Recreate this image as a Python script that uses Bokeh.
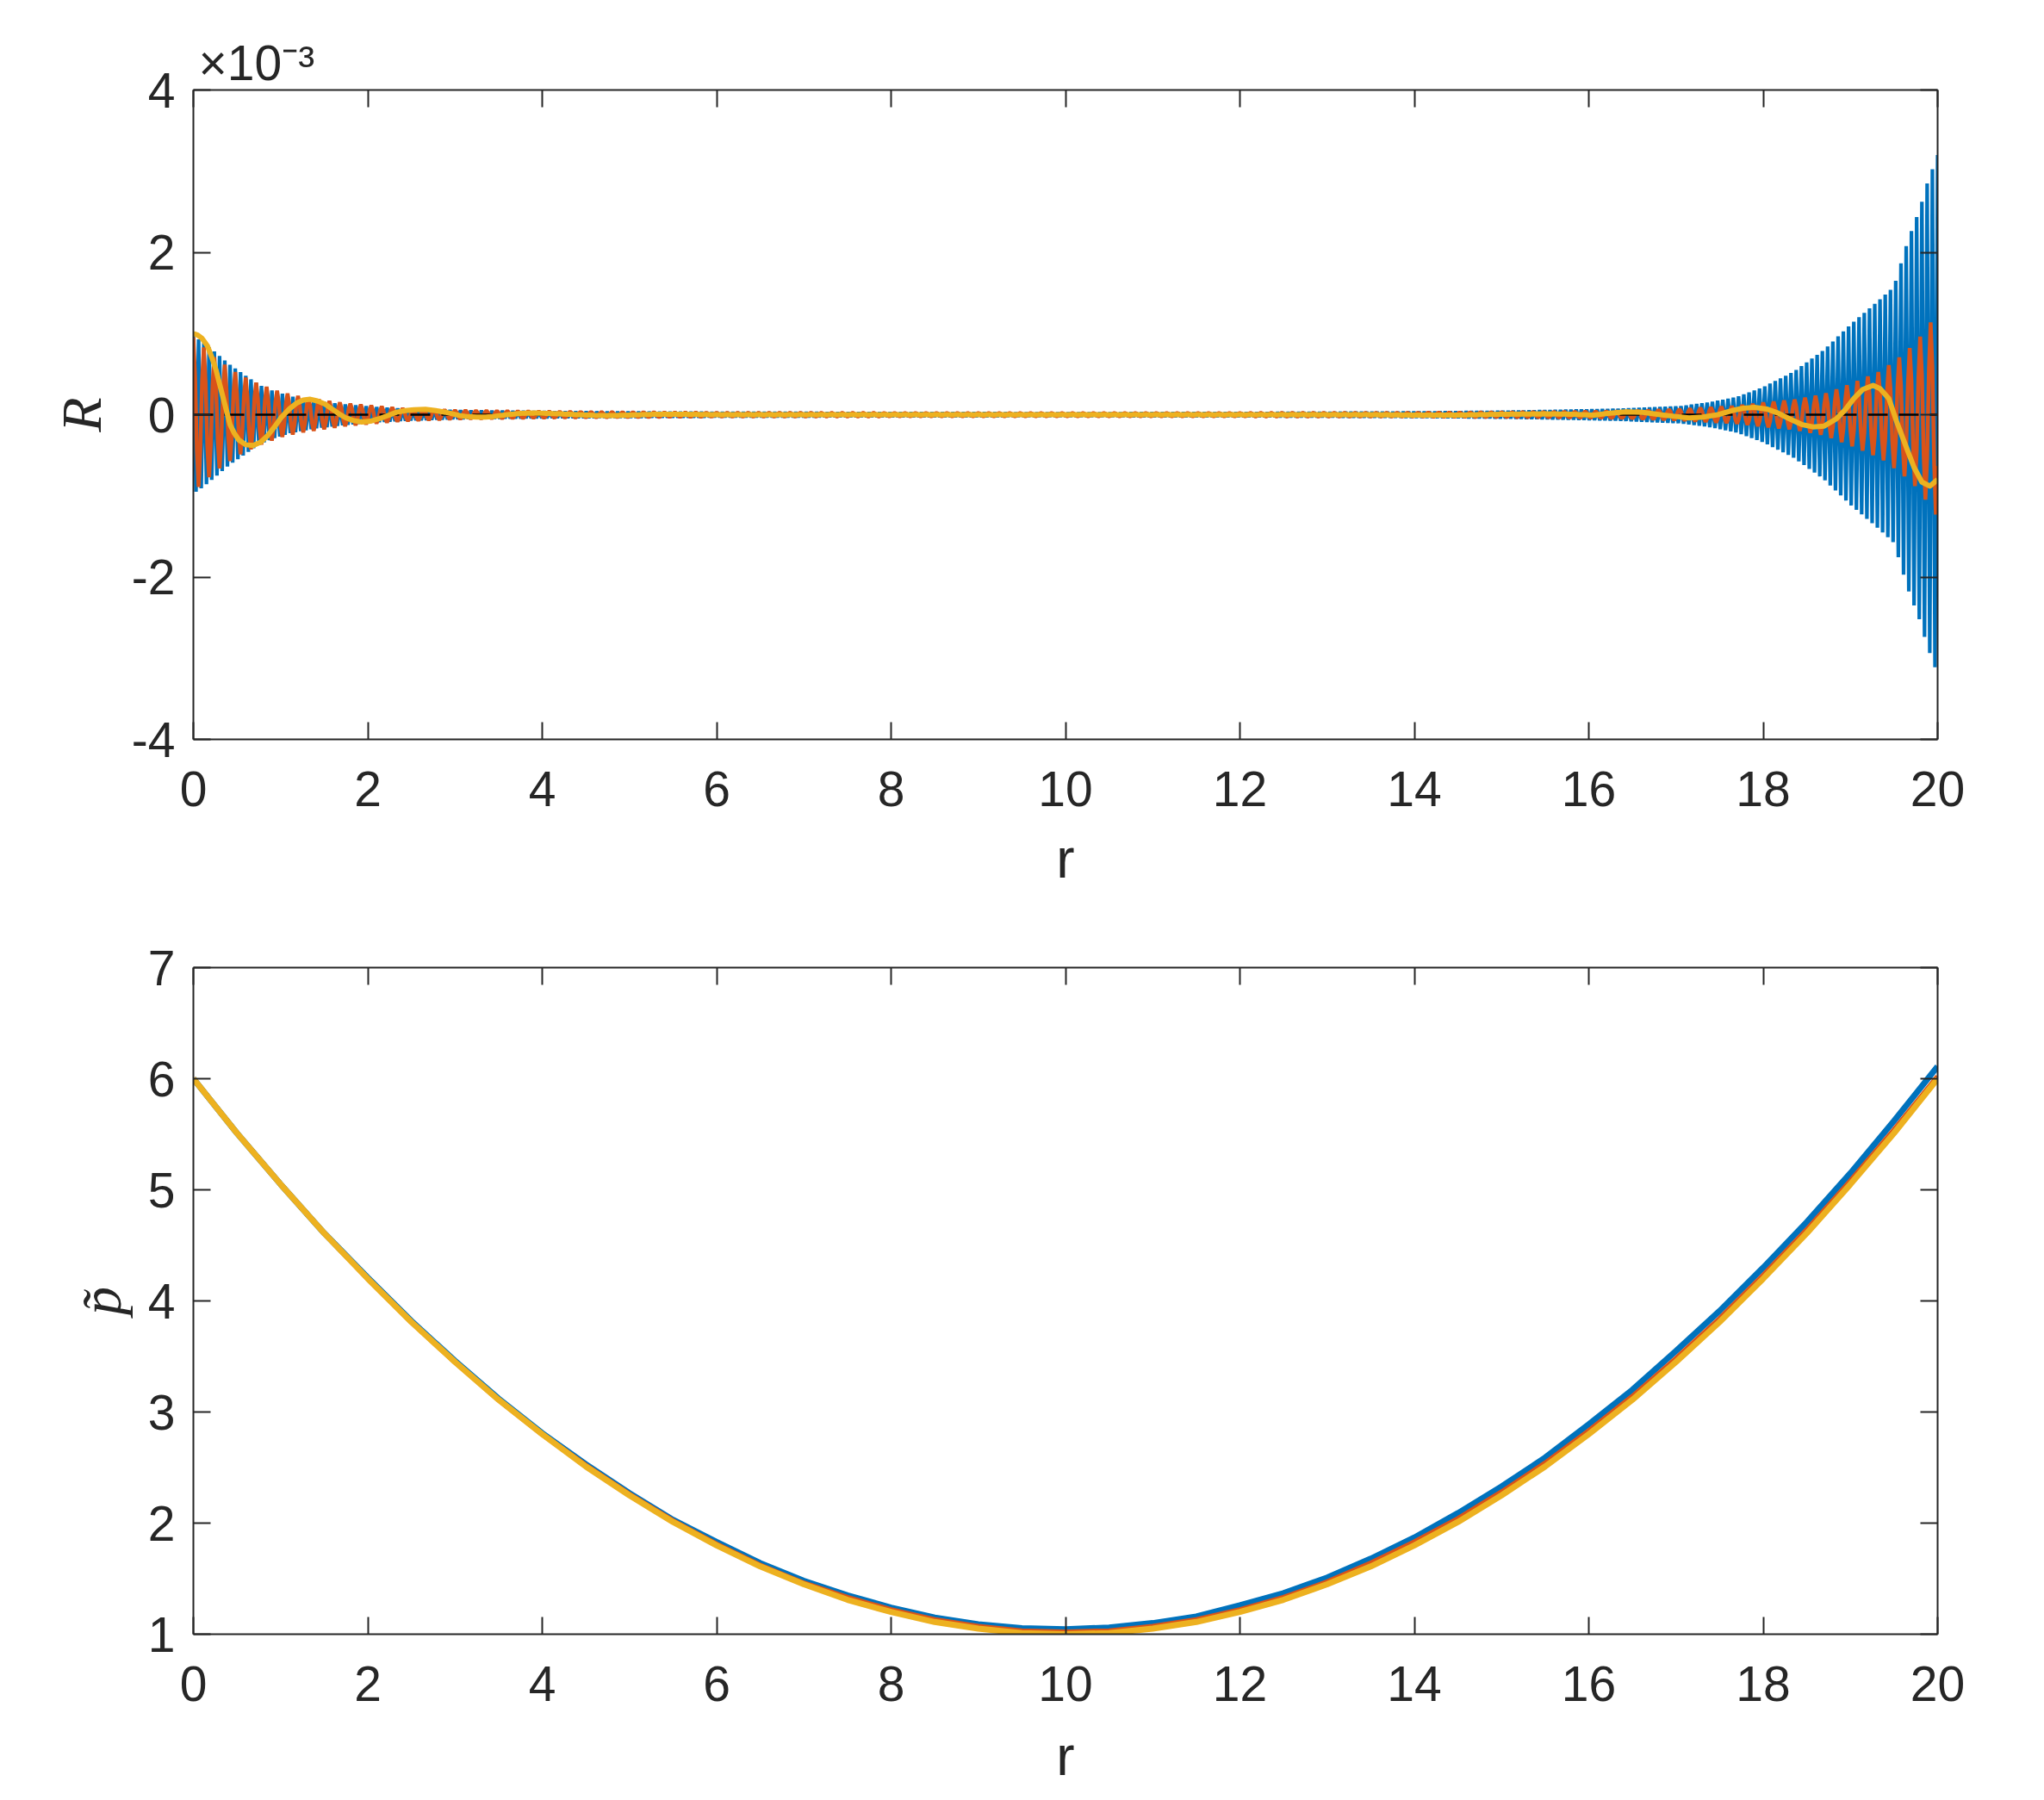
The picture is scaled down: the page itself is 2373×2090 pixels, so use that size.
import numpy as np
from bokeh.plotting import figure
from bokeh.models import Range1d, LinearAxis, FixedTicker, CustomJSTickFormatter, Title
from bokeh.layouts import column
from bokeh.embed import file_html
from bokeh.resources import INLINE

# ---------------- data ----------------
r_ticks = [0, 2, 4, 6, 8, 10, 12, 14, 16, 18, 20]
R_ticks = [-4e-3, -2e-3, 0.0, 2e-3, 4e-3]
p_ticks = [1, 2, 3, 4, 5, 6, 7]
R_scale = 1e-3  # values below are in units of 1e-3
R_scale_label = "×10⁻³"

# blue series: envelope of the fast odd/even (grid-scale) oscillation
blue_env_r = [0.0, 0.1, 0.25, 0.4, 0.6, 0.75, 0.9, 1.1, 1.25, 1.4, 1.75, 2.1, 2.4, 3.0, 3.7, 4.2,
              6.0, 8.0, 10.0, 12.0, 14.0, 15.0, 16.0, 16.4, 16.7, 17.05, 17.4, 17.7, 18.0, 18.35,
              18.7, 19.0, 19.35, 19.5, 19.66, 19.8, 19.88, 20.0]
blue_env_amp = [0.97, 0.90, 0.77, 0.63, 0.48, 0.37, 0.30, 0.23, 0.20, 0.17, 0.125, 0.095, 0.075,
                0.055, 0.045, 0.04, 0.03, 0.025, 0.022, 0.025, 0.035, 0.045, 0.065, 0.075, 0.09,
                0.105, 0.155, 0.22, 0.34, 0.53, 0.80, 1.11, 1.43, 1.58, 2.15, 2.55, 2.85, 3.2]
blue_n_points = 667          # grid points (sign alternates point to point)

# red series: envelope of the slower oscillation
red_env_r = [0.0, 0.25, 0.5, 0.75, 1.0, 1.25, 1.75, 2.4, 3.0, 3.7, 4.5, 6.0, 10.0, 14.0, 15.5,
             16.4, 17.05, 17.7, 18.0, 18.35, 18.7, 19.0, 19.35, 19.6, 19.75, 19.87, 20.0]
red_env_amp = [0.95, 0.70, 0.51, 0.38, 0.28, 0.22, 0.14, 0.08, 0.055, 0.045, 0.035, 0.025, 0.02,
               0.025, 0.035, 0.045, 0.07, 0.11, 0.15, 0.185, 0.255, 0.38, 0.54, 0.74, 0.89, 1.06, 1.26]
red_period = 0.12

# yellow series (smooth)
yellow_r = [0.0, 0.05, 0.1, 0.16, 0.21, 0.26, 0.31, 0.36, 0.42, 0.47, 0.52, 0.6, 0.685, 0.77, 0.85,
            0.93, 1.01, 1.1, 1.18, 1.26, 1.34, 1.42, 1.51, 1.59, 1.67, 1.75, 1.83, 1.93, 2.03,
            2.13, 2.23, 2.33, 2.43, 2.53, 2.66, 2.78, 2.89, 3.05, 3.15, 3.25, 3.35, 3.45, 3.6,
            3.75, 3.91, 4.05, 4.2, 4.4, 4.6, 4.8, 5.0, 5.3, 5.6, 6.0, 8.0, 10.0, 12.0, 13.5,
            14.0, 14.5, 15.0, 15.5, 15.8, 16.06, 16.22, 16.42, 16.62, 16.82, 16.98, 17.15,
            17.31, 17.48, 17.64, 17.77, 17.9, 18.04, 18.17, 18.3, 18.44, 18.57, 18.7, 18.84,
            18.94, 19.04, 19.14, 19.26, 19.34, 19.44, 19.53, 19.63, 19.73, 19.82, 19.91, 20.0]
yellow_R = [1.00, 0.98, 0.94, 0.85, 0.71, 0.55, 0.34, 0.13, -0.12, -0.23, -0.31, -0.37, -0.38,
            -0.34, -0.26, -0.15, -0.03, 0.07, 0.14, 0.18, 0.19, 0.17, 0.13, 0.07, 0.01, -0.04,
            -0.07, -0.09, -0.08, -0.05, -0.01, 0.03, 0.05, 0.06, 0.066, 0.05, 0.03, -0.01,
            -0.025, -0.03, -0.028, -0.02, 0.0, 0.015, 0.02, 0.015, 0.01, 0.0, -0.008, -0.01,
            -0.005, 0.005, 0.005, 0.0, 0.0, 0.0, 0.0, 0.0, -0.005, -0.005, 0.005, 0.01, 0.005,
            -0.005, 0.015, 0.035, 0.03, 0.0, -0.02, -0.04, -0.03, 0.0, 0.05, 0.08, 0.09, 0.07,
            0.02, -0.05, -0.12, -0.15, -0.14, -0.05, 0.06, 0.20, 0.31, 0.36, 0.32, 0.20, -0.085,
            -0.37, -0.65, -0.83, -0.88, -0.80]

# bottom panel
p_r = [0.0, 0.5, 1.0, 1.5, 2.0, 2.5, 3.0, 3.5, 4.0, 4.5, 5.0, 5.5, 6.0, 6.5, 7.0, 7.5, 8.0, 8.5,
       9.0, 9.5, 10.0, 10.5, 11.0, 11.5, 12.0, 12.5, 13.0, 13.5, 14.0, 14.5, 15.0, 15.5, 16.0,
       16.5, 17.0, 17.5, 18.0, 18.5, 19.0, 19.5, 20.0]
p_blue = [6.00, 5.51, 5.05, 4.61, 4.21, 3.82, 3.46, 3.12, 2.81, 2.53, 2.27, 2.03, 1.83, 1.64, 1.48,
          1.35, 1.24, 1.15, 1.09, 1.055, 1.045, 1.06, 1.10, 1.16, 1.26, 1.37, 1.51, 1.68, 1.87,
          2.09, 2.33, 2.59, 2.89, 3.20, 3.55, 3.91, 4.30, 4.71, 5.15, 5.62, 6.11]
p_red = [6.00, 5.51, 5.05, 4.61, 4.20, 3.81, 3.45, 3.11, 2.80, 2.52, 2.26, 2.02, 1.81, 1.62, 1.46,
         1.33, 1.22, 1.13, 1.07, 1.03, 1.02, 1.03, 1.07, 1.13, 1.22, 1.33, 1.47, 1.64, 1.83, 2.04,
         2.28, 2.54, 2.83, 3.14, 3.48, 3.84, 4.23, 4.64, 5.08, 5.54, 6.02]
p_yellow = [6.00, 5.51, 5.05, 4.61, 4.20, 3.81, 3.45, 3.11, 2.80, 2.51, 2.25, 2.01, 1.80, 1.61,
            1.45, 1.31, 1.20, 1.11, 1.05, 1.01, 1.00, 1.01, 1.05, 1.11, 1.20, 1.31, 1.45, 1.61,
            1.80, 2.01, 2.25, 2.51, 2.80, 3.11, 3.45, 3.81, 4.20, 4.61, 5.05, 5.51, 6.00]

# ---------------- style ----------------
BLUE = "#0072BD"
RED = "#D95319"
YELLOW = "#EDB120"
AX = "#262626"
SANS = "Liberation Sans"
SERIF = "Liberation Serif"
TICK_FS = "57px"
LAB_FS = "64px"

blank = CustomJSTickFormatter(code="return '';")


def style_axes(p, xticks, yticks, yformatter=None, xlabel_standoff=22):
    p.xgrid.visible = False
    p.ygrid.visible = False
    p.outline_line_color = None
    p.background_fill_color = None
    p.border_fill_color = None
    p.add_layout(LinearAxis(), "right")
    p.add_layout(LinearAxis(), "above")
    for ax in p.below + p.above:
        ax.ticker = FixedTicker(ticks=xticks)
    for ax in p.left + p.right:
        ax.ticker = FixedTicker(ticks=yticks)
    if yformatter is not None:
        p.left[0].formatter = yformatter
    for ax in p.below + p.above + p.left + p.right:
        ax.axis_line_color = AX
        ax.axis_line_width = 2
        ax.major_tick_line_color = AX
        ax.major_tick_line_width = 2
        ax.major_tick_in = 20
        ax.major_tick_out = 0
        ax.minor_tick_line_color = None
        ax.major_label_text_font = SANS
        ax.major_label_text_font_size = TICK_FS
        ax.major_label_text_color = AX
    for ax in (p.right[0], p.above[0]):
        ax.formatter = blank
        ax.major_label_text_font_size = "1px"
        ax.major_label_standoff = 0
    p.below[0].major_label_standoff = 37
    p.left[0].major_label_standoff = 21
    xa = p.below[0]
    xa.axis_label = "r"
    xa.axis_label_text_font = SANS
    xa.axis_label_text_font_style = "normal"
    xa.axis_label_text_font_size = LAB_FS
    xa.axis_label_text_color = AX
    xa.axis_label_standoff = xlabel_standoff
    ya = p.left[0]
    ya.axis_label_text_font = SERIF
    ya.axis_label_text_font_style = "italic"
    ya.axis_label_text_font_size = "66px"
    ya.axis_label_text_color = AX


W = 2025
left_b = 224
right_b = 2365 - left_b - W

# ---------------- top panel ----------------
p1 = figure(frame_width=W, frame_height=754, min_border_left=left_b, min_border_right=right_b,
            min_border_top=104, min_border_bottom=192, x_range=Range1d(0, 20),
            y_range=Range1d(-4e-3, 4e-3), output_backend="svg", toolbar_location=None,
            title=Title(text=R_scale_label, align="left", offset=6, standoff=0,
                        vertical_align="bottom", text_font=SANS, text_font_size=TICK_FS,
                        text_font_style="normal", text_color=AX))
fmt = CustomJSTickFormatter(code="return String(Math.round(tick*1000));")
style_axes(p1, r_ticks, R_ticks, fmt, xlabel_standoff=22)
p1.left[0].axis_label = "R"
p1.left[0].axis_label_standoff = 19

rb = np.linspace(0.0, 20.0, blue_n_points)
blue_sign = np.where(np.arange(blue_n_points) % 2 == 0, 1.0, -1.0)
blue_vals = np.interp(rb, blue_env_r, blue_env_amp) * blue_sign * R_scale
rr = np.linspace(0.0, 20.0, 1001)
red_vals = np.interp(rr, red_env_r, red_env_amp) * np.cos(2 * np.pi * rr / red_period) * R_scale
yel_vals = np.array(yellow_R) * R_scale

p1.line(rb, blue_vals, line_color=BLUE, line_width=4.2)
p1.line(rr, red_vals, line_color=RED, line_width=4.5)
p1.line([0, 20], [0, 0], line_color="black", line_width=2.5, line_dash="23 13")
p1.line(yellow_r, yel_vals, line_color=YELLOW, line_width=6, line_join="round")

# ---------------- bottom panel ----------------
p2 = figure(frame_width=W, frame_height=774, min_border_left=left_b, min_border_right=right_b,
            min_border_top=73, min_border_bottom=185, x_range=Range1d(0, 20),
            y_range=Range1d(1, 7), output_backend="svg", toolbar_location=None)
style_axes(p2, r_ticks, p_ticks, xlabel_standoff=25)
p2.left[0].axis_label = "p\u0303"
p2.left[0].axis_label_standoff = 15

p2.line(p_r, p_blue, line_color=BLUE, line_width=7)
p2.line(p_r, p_red, line_color=RED, line_width=6)
p2.line(p_r, p_yellow, line_color=YELLOW, line_width=7)

layout = column(p1, p2, spacing=0)
open("out.html", "w").write(file_html(layout, INLINE))
